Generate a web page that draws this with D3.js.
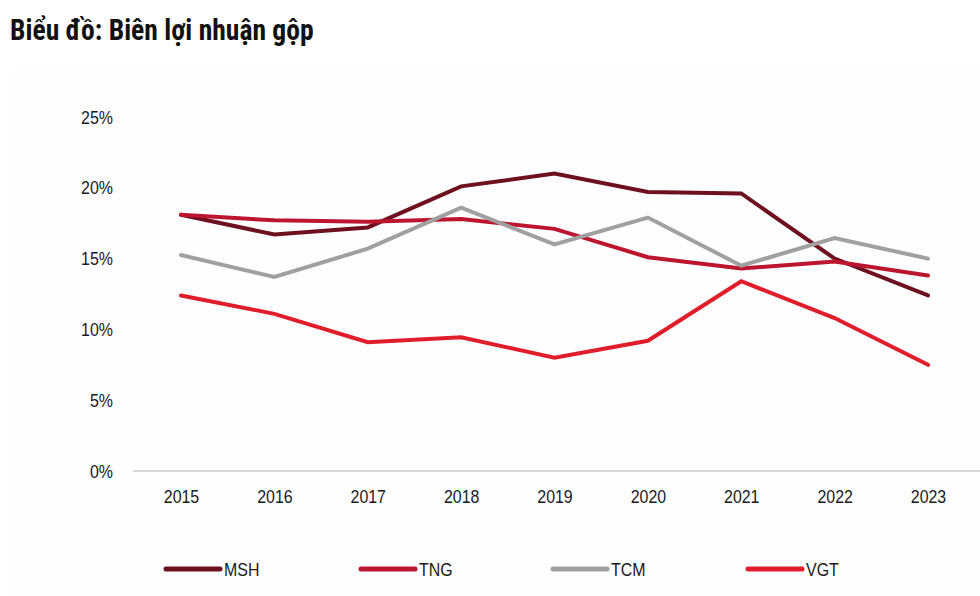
<!DOCTYPE html>
<html><head><meta charset="utf-8">
<script src="https://cdn.jsdelivr.net/npm/d3@7/dist/d3.min.js"></script>
<style>
html,body{margin:0;padding:0;background:#fff;}
svg{display:block;font-family:"Liberation Sans Narrow","Roboto Condensed","Arial Narrow",sans-serif;}
.lab{font-family:"Liberation Sans",Arial,sans-serif;}
</style></head>
<body>
<svg id="chart" width="980" height="596"></svg>
<script>
const years = ["2015","2016","2017","2018","2019","2020","2021","2022","2023"];
const MSH = [18.1,16.7,17.2,20.1,21.0,19.7,19.6,15.0,12.4];
const TNG = [18.1,17.7,17.6,17.8,17.1,15.1,14.3,14.8,13.8];
const TCM = [15.25,13.7,15.7,18.6,16.0,17.9,14.5,16.45,15.0];
const VGT = [12.4,11.1,9.1,9.45,8.0,9.2,13.4,10.8,7.5];
const yTicks = [0,5,10,15,20,25];
const seriesNames = ["MSH","TNG","TCM","VGT"];
const seriesColors = ["#6d1020","#bb1530","#a0a0a0","#e01e2b"];
const seriesData = [MSH,TNG,TCM,VGT];

const svg = d3.select("#chart");
svg.append("rect").attr("x",10).attr("y",68).attr("width",970).attr("height",528).attr("fill","#fefefe");

svg.append("text").attr("transform","translate(10,40) scale(0.92,1)")
  .attr("font-size",30).attr("font-weight","bold").attr("fill","#111")
  .text("Biểu đồ: Biên lợi nhuận gộp");

const x = d3.scalePoint().domain(years).range([181,928]);
const y = d3.scaleLinear().domain([0,25]).range([471,117]);

// baseline
svg.append("line").attr("x1",133).attr("x2",980).attr("y1",y(0)).attr("y2",y(0))
  .attr("stroke","#d9d9d9").attr("stroke-width",2);

// y axis labels
const yAxis = d3.axisLeft(y).tickValues(yTicks).tickFormat(d=>d+"%").tickSize(0).tickPadding(0);
const yg = svg.append("g").attr("transform","translate(113,0)").call(yAxis);
yg.attr("font-family",null).attr("font-size",null);
yg.select(".domain").remove();
yg.selectAll("text").attr("class","lab").attr("font-size",19).attr("fill","#1a1a1a")
  .attr("transform","scale(0.84,1)");

// x axis labels
const xAxis = d3.axisBottom(x).tickSize(0).tickPadding(0);
const xg = svg.append("g").attr("transform","translate(0,489)").call(xAxis);
xg.attr("font-family",null).attr("font-size",null);
xg.select(".domain").remove();
xg.selectAll("text").attr("class","lab").attr("font-size",19).attr("fill","#1a1a1a")
  .attr("transform","scale(0.84,1)");

const line = d3.line().x((d,i)=>x(years[i])).y(d=>y(d));
seriesData.forEach((s,k)=>{
  svg.append("path").datum(s).attr("d",line).attr("fill","none")
    .attr("stroke",seriesColors[k]).attr("stroke-width",4)
    .attr("stroke-linejoin","miter").attr("stroke-linecap","round");
});

// legend
const legX = [166,361,553,748];
seriesNames.forEach((n,k)=>{
  const g = svg.append("g").attr("transform",`translate(${legX[k]},569)`);
  g.append("line").attr("x1",0).attr("x2",54).attr("y1",0).attr("y2",0)
    .attr("stroke",seriesColors[k]).attr("stroke-width",5).attr("stroke-linecap","round");
  g.append("text").attr("class","lab").attr("transform","translate(58,7) scale(0.84,1)")
    .attr("font-size",19).attr("fill","#1a1a1a").text(n);
});
</script>
</body></html>
